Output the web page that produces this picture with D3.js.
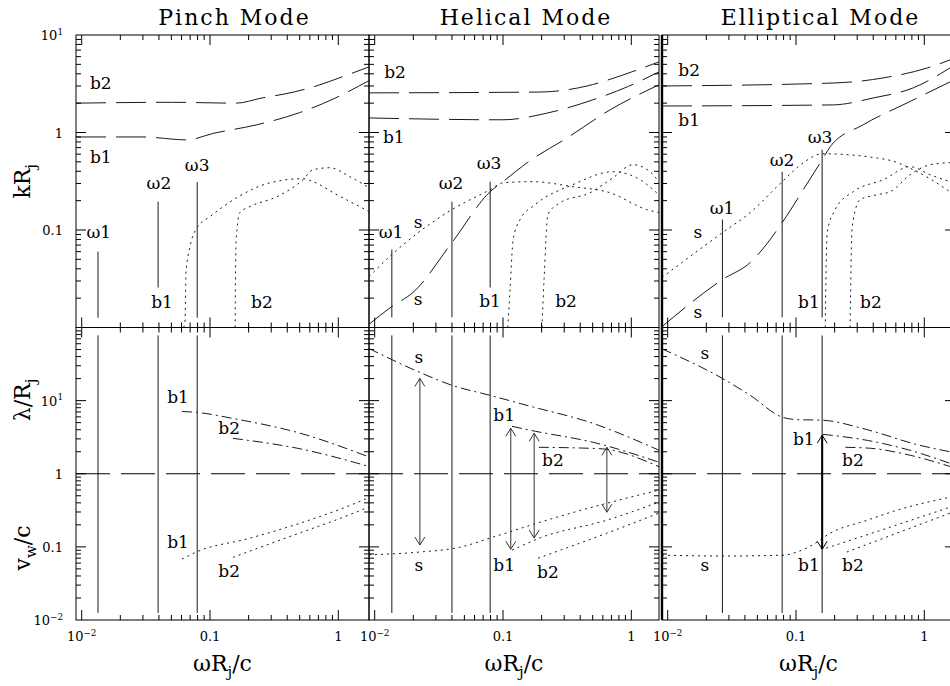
<!DOCTYPE html>
<html>
<head>
<meta charset="utf-8">
<script src="https://cdn.jsdelivr.net/npm/d3@7"></script>
<style>
  body { margin: 0; background: #fff; }
  svg { display: block; }
  text { font-family: "DejaVu Serif", serif; fill: #000; }
</style>
</head>
<body>
<div id="app"></div>
<script>
// ---- data: [omega R_j / c, value] ----

// Pinch mode, k R_j
const pinchKb2 = [[0.00903, 2.0], [0.05, 2.04], [0.16, 2.0], [0.25, 2.25], [0.45, 2.6], [0.7, 3.05], [1.0, 3.6], [1.73, 4.7]];
const pinchKb1 = [[0.00903, 0.9], [0.03, 0.9], [0.066, 0.84], [0.106, 0.98], [0.232, 1.2], [0.5, 1.6], [0.91, 2.2], [1.73, 3.4]];
const pinchKb1dot = [[0.0621, 0.01], [0.0638, 0.0113], [0.065, 0.0366], [0.0699, 0.0676], [0.0794, 0.106], [0.1, 0.137], [0.162, 0.215], [0.294, 0.305], [0.531, 0.336], [0.635, 0.313], [0.977, 0.23], [1.73, 0.155]];
const pinchKb2dot = [[0.157, 0.01], [0.158, 0.031], [0.16, 0.079], [0.171, 0.151], [0.205, 0.174], [0.333, 0.22], [0.531, 0.328], [0.635, 0.415], [0.861, 0.435], [1.23, 0.352], [1.73, 0.272]];
// Pinch mode, lambda / R_j and v_w / c
const pinchLb1 = [[0.0605, 7.1], [0.0795, 6.9], [0.151, 5.7], [0.5, 3.6], [1.73, 1.7]];
const pinchLb2 = [[0.151, 3.05], [0.5, 2.2], [1.73, 1.26]];
const pinchVb1 = [[0.0605, 0.068], [0.0795, 0.086], [0.2, 0.13], [0.5, 0.21], [1.0, 0.32], [1.73, 0.47]];
const pinchVb2 = [[0.151, 0.072], [0.5, 0.155], [1.0, 0.24], [1.73, 0.35]];

// Helical mode, k R_j
const helKb2 = [[0.00903, 2.55], [0.194, 2.6], [0.452, 3.0], [0.817, 3.8], [1.64, 5.3]];
const helKb1 = [[0.00903, 1.41], [0.1, 1.35], [0.22, 1.58], [0.5, 2.16], [0.93, 2.94], [1.64, 4.18]];
const helKs = [[0.00903, 0.0108], [0.0136, 0.0164], [0.0199, 0.0229], [0.04, 0.0743], [0.0794, 0.247], [0.1, 0.313], [0.154, 0.49], [0.316, 0.88], [0.684, 1.71], [1.64, 3.08]];
const helKsdot = [[0.00903, 0.0333], [0.0136, 0.056], [0.04, 0.162], [0.0794, 0.259], [0.1, 0.305], [0.171, 0.313], [0.351, 0.278], [0.683, 0.241], [1.32, 0.162], [1.64, 0.151]];
const helKb1dot = [[0.109, 0.01], [0.1135, 0.0245], [0.12, 0.08], [0.136, 0.128], [0.178, 0.182], [0.351, 0.292], [0.721, 0.396], [1.17, 0.328], [1.64, 0.23]];
const helKb2dot = [[0.201, 0.01], [0.209, 0.031], [0.224, 0.144], [0.278, 0.19], [0.477, 0.241], [0.721, 0.344], [1.03, 0.468], [1.4, 0.396], [1.64, 0.313]];
// Helical mode, lambda / R_j and v_w / c
const helLs = [[0.00903, 51.6], [0.0225, 24.3], [0.04, 16.2], [0.0794, 11.8], [0.154, 8.6], [0.5, 4.9], [1.64, 2.1]];
const helLb1 = [[0.1175, 4.45], [0.18, 3.8], [0.5, 2.7], [1.64, 1.44]];
const helLb2 = [[0.19, 2.3], [0.57, 2.2], [1.64, 1.25]];
const helVs = [[0.00903, 0.078], [0.0225, 0.085], [0.0463, 0.099], [0.0836, 0.136], [0.22, 0.232], [0.645, 0.395], [1.64, 0.596]];
const helVb1 = [[0.1175, 0.09], [0.193, 0.132], [0.645, 0.232], [1.64, 0.408]];
const helVb2 = [[0.1875, 0.07], [0.645, 0.154], [1.64, 0.289]];

// Elliptical mode, k R_j
const ellKb2 = [[0.00903, 3.0], [0.21, 3.23], [0.479, 3.63], [1.055, 4.59], [1.585, 5.55]];
const ellKb1 = [[0.00903, 1.87], [0.195, 1.92], [0.4, 2.26], [0.82, 2.87], [1.585, 4.59]];
const ellKs = [[0.00903, 0.0102], [0.0267, 0.031], [0.044, 0.0464], [0.078, 0.119], [0.114, 0.259], [0.16, 0.526], [0.185, 0.715], [0.334, 1.2], [0.734, 2.01], [1.585, 3.3]];
const ellKsdot = [[0.00903, 0.0326], [0.0267, 0.094], [0.044, 0.151], [0.078, 0.313], [0.114, 0.49], [0.16, 0.605], [0.513, 0.526], [0.822, 0.415], [1.585, 0.247]];
const ellKb1dot = [[0.169, 0.01], [0.171, 0.03], [0.175, 0.094], [0.202, 0.162], [0.279, 0.247], [0.479, 0.328], [0.776, 0.446], [1.11, 0.369], [1.585, 0.313]];
const ellKb2dot = [[0.264, 0.01], [0.274, 0.108], [0.316, 0.205], [0.429, 0.23], [0.542, 0.247], [0.776, 0.369], [1.11, 0.467], [1.585, 0.49]];
// Elliptical mode, lambda / R_j and v_w / c
const ellLs = [[0.00903, 51], [0.0267, 20.1], [0.044, 11.8], [0.079, 5.9], [0.102, 5.5], [0.16, 5.4], [0.36, 4.0], [0.88, 2.5], [1.585, 2.0]];
const ellLb1 = [[0.162, 3.46], [0.36, 2.86], [0.776, 2.09], [1.585, 1.39]];
const ellLb2 = [[0.243, 2.3], [0.38, 2.23], [0.776, 1.79], [1.585, 1.26]];
const ellVs = [[0.00903, 0.077], [0.0267, 0.075], [0.079, 0.077], [0.102, 0.085], [0.134, 0.106], [0.185, 0.154], [0.36, 0.232], [0.615, 0.318], [1.585, 0.477]];
const ellVb1 = [[0.172, 0.096], [0.542, 0.186], [1.585, 0.349]];
const ellVb2 = [[0.249, 0.085], [1.585, 0.289]];

// omega markers: frequency and extent in the k panel
const pinchOmega = [[0.0134, 0.0126, 0.06], [0.0394, 0.0257, 0.195], [0.0795, 0.0126, 0.31]];
const helOmega = [[0.0136, 0.0127, 0.063], [0.04, 0.0127, 0.195], [0.0794, 0.0257, 0.313]];
const ellOmega = [[0.0267, 0.0127, 0.128], [0.078, 0.0127, 0.396], [0.16, 0.0127, 0.666]];
const omegaLowerSpan = [0.0125, 78];

// double arrows: [frequency, lambda end, v_w end]
const helArrows = [[0.0225, 20.1, 0.106], [0.115, 4.18, 0.093], [0.175, 3.57, 0.132], [0.645, 2.3, 0.298]];
const ellArrows = [[0.16, 3.36, 0.093]];

// curve labels: [text, frequency, value, row]
const pinchLabels = [
  ["b2", 0.0141, 3.23, "k"], ["b1", 0.0141, 0.564, "k"], ["ω1", 0.0136, 0.0964, "k"],
  ["ω2", 0.04, 0.305, "k"], ["ω3", 0.0794, 0.467, "k"], ["b1", 0.0423, 0.0181, "k"], ["b2", 0.254, 0.0181, "k"],
  ["b1", 0.0564, 11.1, "l"], ["b2", 0.141, 4.2, "l"], ["b1", 0.0564, 0.116, "l"], ["b2", 0.141, 0.0467, "l"]
];
const helLabels = [
  ["b2", 0.0144, 4.18, "k"], ["b1", 0.0141, 0.904, "k"], ["ω1", 0.0134, 0.0964, "k"], ["s", 0.0218, 0.122, "k"],
  ["ω2", 0.0394, 0.305, "k"], ["ω3", 0.0778, 0.49, "k"], ["s", 0.0218, 0.0194, "k"], ["b1", 0.0793, 0.0185, "k"], ["b2", 0.31, 0.0185, "k"],
  ["s", 0.0221, 38.9, "l"], ["s", 0.0221, 0.0564, "l"], ["b1", 0.102, 6.3, "l"], ["b2", 0.245, 1.53, "l"],
  ["b1", 0.102, 0.0564, "l"], ["b2", 0.224, 0.0452, "l"]
];
const ellLabels = [
  ["b2", 0.0147, 4.39, "k"], ["b1", 0.0147, 1.35, "k"], ["ω1", 0.0265, 0.169, "k"], ["s", 0.0172, 0.0964, "k"],
  ["ω2", 0.0778, 0.526, "k"], ["ω3", 0.154, 0.904, "k"], ["s", 0.0172, 0.0143, "k"], ["b1", 0.126, 0.0181, "k"], ["b2", 0.384, 0.0181, "k"],
  ["s", 0.0195, 44.2, "l"], ["b1", 0.115, 2.96, "l"], ["b2", 0.278, 1.53, "l"],
  ["s", 0.0195, 0.0564, "l"], ["b1", 0.126, 0.0564, "l"], ["b2", 0.278, 0.0564, "l"]
];

const titles = ["Pinch Mode", "Helical Mode", "Elliptical Mode"];
const xTickLabels = [[0.01, "10", "-2"], [0.1, "0.1", ""], [1, "1", ""]];
const kTickLabels = [[10, "10", "1"], [1, "1", ""], [0.1, "0.1", ""]];
const lTickLabels = [[10, "10", "1"], [1, "1", ""], [0.1, "0.1", ""], [0.01, "10", "-2"]];

// ---- layout ----
const W = 950, H = 686;
const decade = 128.3;
const topK = 35, mid = 327.5, bottomL = 620;
const layout = [
  { left: 76, right: 369 },
  { left: 369, right: 659 },
  { left: 662, right: 955 }
];
const dashes = { dash: "30,10", dot: "2,4", dashdot: "10,4,2,4" };

const panels = [
  {
    k: [[pinchKb2, "dash"], [pinchKb1, "dash"], [pinchKb1dot, "dot"], [pinchKb2dot, "dot"]],
    l: [[pinchLb1, "dashdot"], [pinchLb2, "dashdot"], [pinchVb1, "dot"], [pinchVb2, "dot"]],
    omega: pinchOmega, arrows: [], labels: pinchLabels
  },
  {
    k: [[helKb2, "dash"], [helKb1, "dash"], [helKs, "dash"], [helKsdot, "dot"], [helKb1dot, "dot"], [helKb2dot, "dot"]],
    l: [[helLs, "dashdot"], [helLb1, "dashdot"], [helLb2, "dashdot"], [helVs, "dot"], [helVb1, "dot"], [helVb2, "dot"]],
    omega: helOmega, arrows: helArrows, labels: helLabels
  },
  {
    k: [[ellKb2, "dash"], [ellKb1, "dash"], [ellKs, "dash"], [ellKsdot, "dot"], [ellKb1dot, "dot"], [ellKb2dot, "dot"]],
    l: [[ellLs, "dashdot"], [ellLb1, "dashdot"], [ellLb2, "dashdot"], [ellVs, "dot"], [ellVb1, "dot"], [ellVb2, "dot"]],
    omega: ellOmega, arrows: ellArrows, labels: ellLabels
  }
];

const svg = d3.select("#app").append("svg")
  .attr("width", W).attr("height", H)
  .attr("viewBox", [0, 0, W, H]);

const yK = d3.scaleLog().domain([0.01, 10]).range([mid, topK]);
const yL = d3.scaleLog().domain([0.01, 100]).range([bottomL, mid]);

// all 1..9 x 10^d values between lo and hi
function logTicks(lo, hi) {
  const out = [];
  for (let d = Math.floor(Math.log10(lo)); d <= Math.ceil(Math.log10(hi)); d++) {
    for (let m = 1; m <= 9; m++) {
      const v = +(m * Math.pow(10, d)).toPrecision(3);
      if (v >= lo && v <= hi) out.push({ v, major: m === 1 });
    }
  }
  return out;
}

// text with an optional superscript
function supText(g, x, y, base, sup, size, anchor) {
  const t = g.append("text").attr("x", x).attr("y", y)
    .attr("font-size", size).attr("text-anchor", anchor);
  t.append("tspan").text(base);
  if (sup) t.append("tspan").attr("dy", -size * 0.42).attr("font-size", size * 0.68).text(sup.replace("-", "\u2212"));
  return t;
}

// axis title with subscripts: parts = [[text, isSub], ...]
function subTitle(g, parts, size) {
  const t = g.append("text").attr("font-size", size).attr("text-anchor", "middle");
  let shifted = false;
  parts.forEach(([s, sub]) => {
    const sp = t.append("tspan").text(s);
    if (sub && !shifted) { sp.attr("dy", size * 0.28).attr("font-size", size * 0.68); shifted = true; }
    else if (!sub && shifted) { sp.attr("dy", -size * 0.28); shifted = false; }
  });
  return t;
}

panels.forEach((p, i) => {
  const { left, right } = layout[i];
  const x0 = left + 5.7;
  const x = d3.scaleLog().domain([0.01, 1]).range([x0, x0 + 2 * decade]);
  const g = svg.append("g");

  const rows = [
    { key: "k", y: yK, top: topK, bottom: mid, curves: p.k },
    { key: "l", y: yL, top: mid, bottom: bottomL, curves: p.l }
  ];

  rows.forEach((r, j) => {
    const clipId = `clip-${i}-${j}`;
    svg.append("clipPath").attr("id", clipId).append("rect")
      .attr("x", left).attr("y", r.top)
      .attr("width", right - left).attr("height", r.bottom - r.top);
    const cg = g.append("g").attr("clip-path", `url(#${clipId})`);

    const line = d3.line()
      .x((d) => x(d[0]))
      .y((d) => r.y(d[1]))
      .curve(d3.curveMonotoneX);

    cg.selectAll("path.curve")
      .data(r.curves)
      .join("path")
      .attr("class", "curve")
      .attr("d", (d) => line(d[0]))
      .attr("fill", "none")
      .attr("stroke", "#1a1a1a")
      .attr("stroke-width", 1)
      .attr("stroke-dasharray", (d) => dashes[d[1]]);

    // omega markers
    cg.selectAll("line.omega")
      .data(p.omega)
      .join("line")
      .attr("class", "omega")
      .attr("x1", (d) => x(d[0])).attr("x2", (d) => x(d[0]))
      .attr("y1", (d) => r.y(r.key === "k" ? d[2] : omegaLowerSpan[1]))
      .attr("y2", (d) => r.y(r.key === "k" ? d[1] : omegaLowerSpan[0]))
      .attr("stroke", (d, k) => (i === 2 && k === 2 ? "#555" : "#1a1a1a"))
      .attr("stroke-width", (d, k) => (i === 2 && k === 2 ? 1.4 : 1));

    if (r.key === "l") {
      cg.append("line")
        .attr("x1", left).attr("x2", right)
        .attr("y1", yL(1)).attr("y2", yL(1))
        .attr("stroke", "#000")
        .attr("stroke-dasharray", "34,11");

      // double arrows between wavelength and wave speed
      const thick = i === 2;
      p.arrows.forEach(([f, a, b]) => {
        const ax = x(f), ya = yL(a), yb = yL(b);
        const ag = cg.append("g")
          .attr("stroke", thick ? "#000" : "#333")
          .attr("stroke-width", thick ? 2 : 1)
          .attr("fill", "none");
        ag.append("line").attr("x1", ax).attr("x2", ax).attr("y1", ya).attr("y2", yb);
        ag.append("path").attr("stroke-width", 1)
          .attr("d", `M${ax - 5},${ya + 8}L${ax},${ya}L${ax + 5},${ya + 8}`);
        ag.append("path").attr("stroke-width", 1)
          .attr("d", `M${ax - 5},${yb - 8}L${ax},${yb}L${ax + 5},${yb - 8}`);
      });
    }

    // frame
    g.append("rect")
      .attr("x", left).attr("y", r.top)
      .attr("width", right - left).attr("height", r.bottom - r.top)
      .attr("fill", "none").attr("stroke", "#000").attr("stroke-width", 1);

    // ticks on x (top and bottom, pointing inward)
    const xt = logTicks(x.invert(left), x.invert(right))
      .filter((t) => x(t.v) > left + 1 && x(t.v) < right - 1);
    const tickG = g.append("g").attr("stroke", "#000").attr("stroke-width", 1);
    xt.forEach((t) => {
      const len = t.major ? 10 : 5;
      tickG.append("line").attr("x1", x(t.v)).attr("x2", x(t.v)).attr("y1", r.bottom).attr("y2", r.bottom - len);
      tickG.append("line").attr("x1", x(t.v)).attr("x2", x(t.v)).attr("y1", r.top).attr("y2", r.top + len);
    });
    // ticks on y (left and right, pointing inward)
    const dom = r.y.domain();
    logTicks(dom[0], dom[1])
      .filter((t) => r.y(t.v) > r.top + 1 && r.y(t.v) < r.bottom - 1)
      .forEach((t) => {
        const len = t.major ? 10 : 5;
        const yy = r.y(t.v);
        tickG.append("line").attr("x1", left).attr("x2", left + len).attr("y1", yy).attr("y2", yy);
        tickG.append("line").attr("x1", right).attr("x2", right - len).attr("y1", yy).attr("y2", yy);
      });
  });

  if (i === 2) {
    g.append("line").attr("x1", left).attr("x2", left)
      .attr("y1", topK).attr("y2", bottomL)
      .attr("stroke", "#000").attr("stroke-width", 2.4);
  }

  // curve labels
  g.selectAll("text.lab")
    .data(p.labels)
    .join("text")
    .attr("class", "lab")
    .attr("x", (d) => x(d[1]))
    .attr("y", (d) => (d[3] === "k" ? yK : yL)(d[2]))
    .attr("text-anchor", "middle")
    .attr("dominant-baseline", "central")
    .attr("font-size", 17)
    .text((d) => d[0]);

  // x tick labels
  xTickLabels.forEach(([v, base, sup]) => {
    supText(g, x(v), 641, base, sup, 13, "middle");
  });

  // title and x axis title
  g.append("text")
    .attr("x", (left + right) / 2 + 12).attr("y", 25)
    .attr("text-anchor", "middle")
    .attr("font-size", 22)
    .attr("letter-spacing", 2)
    .text(titles[i]);

  subTitle(g, [["ωR", false], ["j", true], ["/c", false]], 22)
    .attr("x", (left + right) / 2).attr("y", 671);
});

// y tick labels (left panel only)
const yLab = svg.append("g");
kTickLabels.forEach(([v, base, sup]) => {
  supText(yLab, 63, yK(v) + 5, base, sup, 13, "end");
});
lTickLabels.forEach(([v, base, sup]) => {
  supText(yLab, 63, yL(v) + 5, base, sup, 13, "end");
});

// rotated y axis titles
subTitle(yLab, [["kR", false], ["j", true]], 22)
  .attr("transform", `translate(30,${(topK + mid) / 2}) rotate(-90)`);
subTitle(yLab, [["λ/R", false], ["j", true]], 22)
  .attr("transform", `translate(30,400) rotate(-90)`);
subTitle(yLab, [["v", false], ["w", true], ["/c", false]], 22)
  .attr("transform", `translate(30,548) rotate(-90)`);
</script>
</body>
</html>
